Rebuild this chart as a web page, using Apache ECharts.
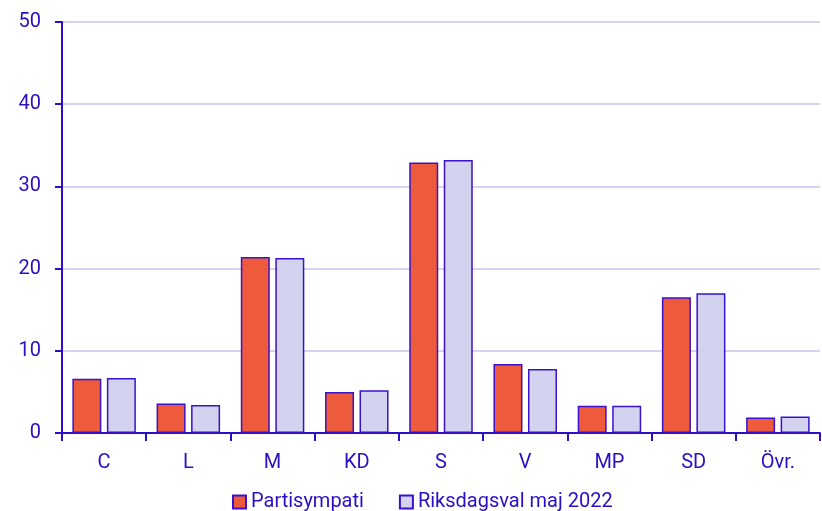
<!DOCTYPE html>
<html><head><meta charset="utf-8">
<script src="https://cdn.jsdelivr.net/npm/echarts@6/dist/echarts.min.js"></script>
<style>html,body{margin:0;padding:0;background:#fff}#c{width:822px;height:511px}</style>
</head><body><div id="c"></div>
<script>
const categories = ['C','L','M','KD','S','V','MP','SD','Övr.'];
const partisympati = [6.6, 3.6, 21.4, 5.0, 32.9, 8.4, 3.3, 16.5, 1.9];
const riksdagsval = [6.7, 3.4, 21.3, 5.2, 33.2, 7.8, 3.3, 17.0, 2.0];
const seriesNames = ['Partisympati', 'Riksdagsval maj 2022'];
const yTicks = [0, 10, 20, 30, 40, 50];

const txt = '#2a0fc4';
const axisCol = '#2a0fc4';
const chart = echarts.init(document.getElementById('c'), null, {renderer:'canvas'});
chart.setOption({
  animation:false,
  textStyle:{fontFamily:'Roboto'},
  grid:{left:62, right:2, top:22, bottom:78, containLabel:false},
  legend:{
    top:487, left:227, itemWidth:13, itemHeight:13, itemGap:35, icon:'rect',
    textStyle:{color:txt, fontSize:20, fontFamily:'Roboto'},
    data:seriesNames
  },
  xAxis:{
    type:'category', data:categories,
    axisLine:{lineStyle:{color:axisCol, width:2}},
    axisTick:{show:true, length:8, lineStyle:{color:axisCol, width:2}},
    axisLabel:{color:txt, fontSize:20, margin:20, fontFamily:'Roboto'}
  },
  yAxis:{
    type:'value', min:yTicks[0], max:yTicks[yTicks.length-1], interval:10,
    axisLine:{show:true, lineStyle:{color:axisCol, width:2}},
    axisTick:{show:true, length:7, lineStyle:{color:axisCol, width:2}},
    axisLabel:{color:txt, fontSize:20, margin:21, fontFamily:'Roboto'},
    splitLine:{lineStyle:{color:'#d4d4f0', width:2}}
  },
  series:[
    {name:seriesNames[0], type:'bar', data:partisympati, barWidth:29, barGap:'19%',
     itemStyle:{color:'#ee5a3c', borderColor:'#3a12cc', borderWidth:1.5}},
    {name:seriesNames[1], type:'bar', data:riksdagsval, barWidth:29,
     itemStyle:{color:'#d3d3ef', borderColor:'#3a12cc', borderWidth:1.5}}
  ]
});
</script></body></html>
